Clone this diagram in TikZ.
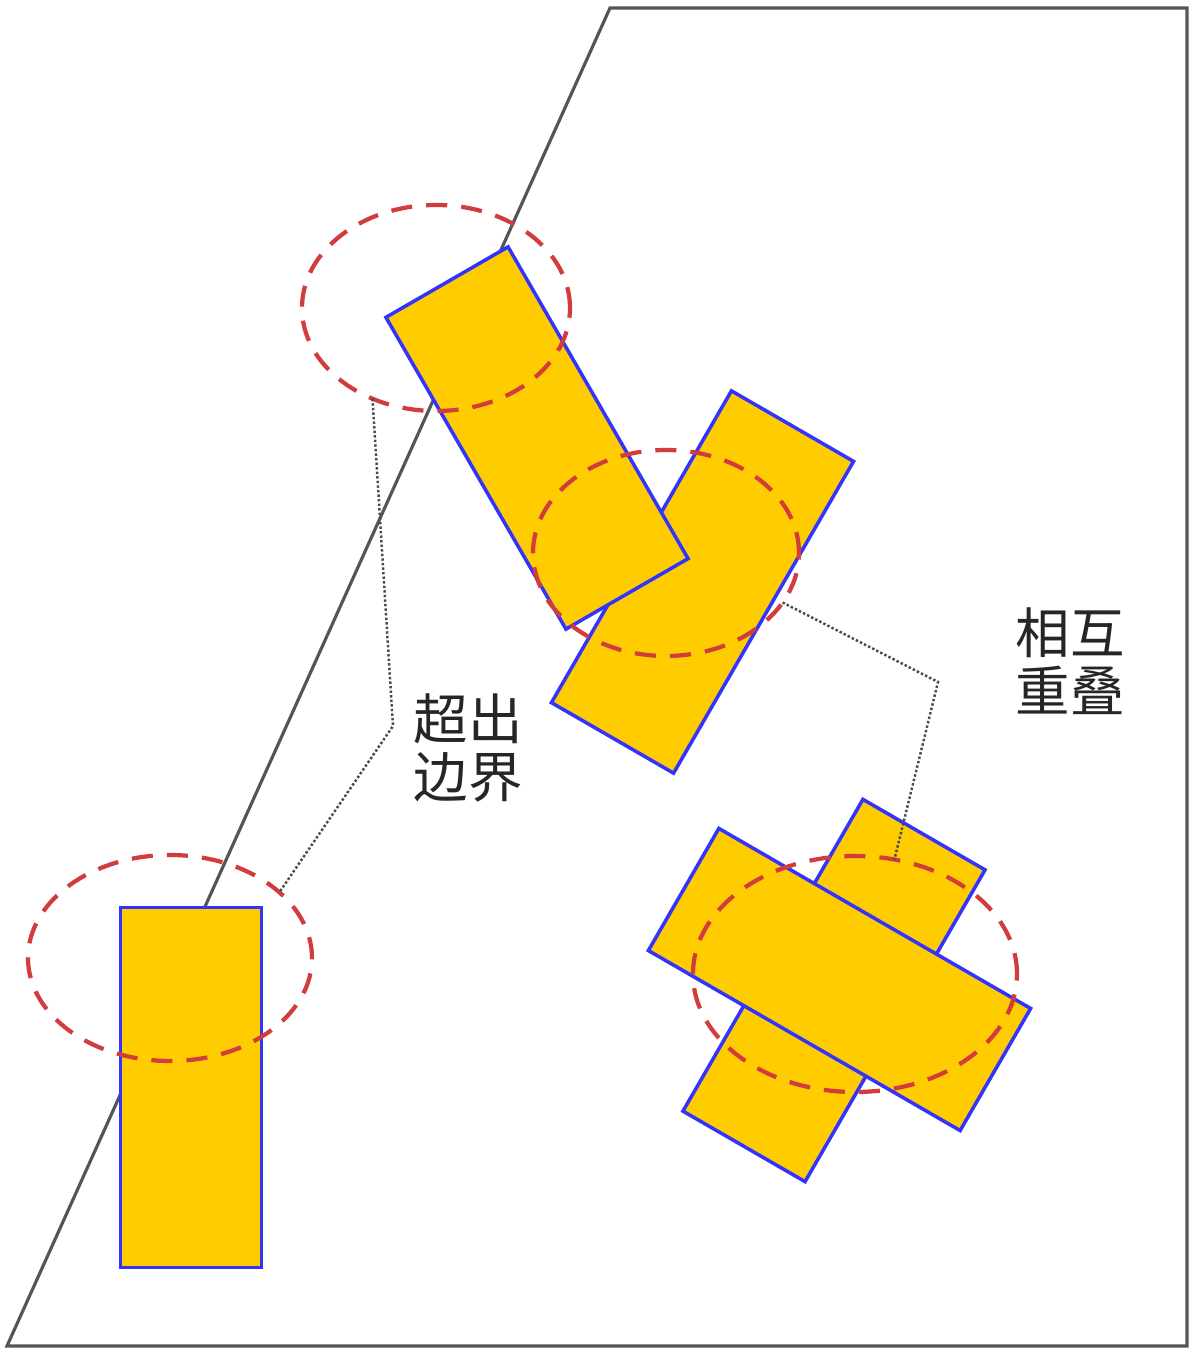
\documentclass[tikz,border=0pt]{standalone}
\usepackage{fontspec}
\usepackage{tikz}
\usetikzlibrary{shapes.geometric}
\newfontfamily\cjk{Noto Sans CJK SC}
\definecolor{partyellow}{RGB}{255,204,0}
\definecolor{edgeblue}{RGB}{51,51,255}
\definecolor{zonered}{RGB}{210,60,60}
\definecolor{framegray}{RGB}{85,85,85}

\begin{document}
\begin{tikzpicture}[
    part/.style={draw=edgeblue,line width=1pt,fill=partyellow,minimum width=1.41cm,minimum height=3.6cm,inner sep=0pt},
    zone/.style={ellipse,draw=zonered,line width=1.2pt,dash pattern=on 6pt off 4pt,inner sep=0pt,outer sep=0pt},
    callout/.style={draw=black!70,line width=0.7pt,dash pattern=on 0.7pt off 0.6pt},
    note/.style={font=\cjk\fontsize{15.5}{16.5}\selectfont,align=center,text=black!85}]
    \useasboundingbox (0,0) rectangle (12,13.53);
    % work area
    \draw[framegray,line width=0.9pt] (6.10,13.45) -- (11.87,13.45) -- (11.87,0.07) -- (0.07,0.07) -- cycle;

    % parts
    \node[part] (base) at (1.91,2.655) {};
    \node[part,rotate=-30] (midlow) at (7.025,7.71) {};
    \node[part,rotate=30] (midtop) at (5.37,9.15) {};
    \node[part,rotate=-30] (crossback) at (8.34,3.625) {};
    \node[part,rotate=60] (crossfront) at (8.395,3.735) {};

    % marked zones
    \node[zone,minimum width=2.68cm,minimum height=2.06cm] (edgetop) at (4.36,10.45) {};
    \node[zone,minimum width=2.66cm,minimum height=2.06cm] (overlaptop) at (6.66,8.00) {};
    \node[zone,minimum width=2.84cm,minimum height=2.06cm] (edgelow) at (1.70,3.95) {};
    \node[zone,minimum width=3.24cm,minimum height=2.36cm] (overlaplow) at (8.55,3.79) {};

    % labels
    \node[note] (outlabel) at (4.68,6.05) {超出\\边界};
    \node[note] (overlabel) at (10.70,6.92) {相互\\重叠};

    \coordinate (outbend) at (3.93,6.27);
    \coordinate (overbend) at (9.38,6.71);
    \draw[callout] (edgetop.235) -- (outbend) -- (edgelow.31);
    \draw[callout] (overlaptop.337) -- (overbend) -- (overlaplow.71);
\end{tikzpicture}
\end{document}
